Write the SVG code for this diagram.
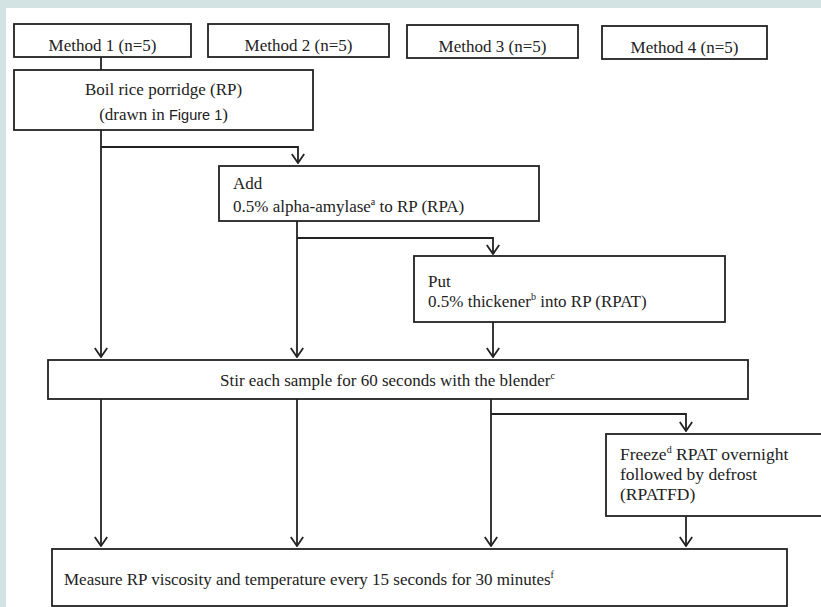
<svg xmlns="http://www.w3.org/2000/svg" width="821" height="607" viewBox="0 0 821 607">
<defs>
<style>
.bx{fill:#fff;stroke:#222;stroke-width:1.8}
.t{font-family:"Liberation Serif","Times New Roman",serif;font-size:17px;fill:#222}
.f{font-size:17.5px}
.s{font-family:"Liberation Serif","Times New Roman",serif;font-size:10px;fill:#222}
.c{fill:none;stroke:#222;stroke-width:1.8}
</style>
<marker id="ah" viewBox="0 0 12 14" refX="11" refY="7" markerWidth="12" markerHeight="14" markerUnits="userSpaceOnUse" orient="auto">
<path d="M2,0.8 L11,7 L2,13.2" fill="none" stroke="#222" stroke-width="1.8"/>
</marker>
</defs>
<rect x="0" y="0" width="821" height="607" fill="#d3e3e3"/>
<rect x="6" y="8" width="815" height="599" fill="#fff"/>

<g id="connectors">
<path class="c" d="M101,57 V70"/>
<path class="c" d="M101,130 V357" marker-end="url(#ah)"/>
<path class="c" d="M101,147 H298 V163" marker-end="url(#ah)"/>
<path class="c" d="M297,221 V357" marker-end="url(#ah)"/>
<path class="c" d="M297,238 H493 V254" marker-end="url(#ah)"/>
<path class="c" d="M493,322 V357" marker-end="url(#ah)"/>
<path class="c" d="M101,399 V546" marker-end="url(#ah)"/>
<path class="c" d="M297,399 V546" marker-end="url(#ah)"/>
<path class="c" d="M491,399 V546" marker-end="url(#ah)"/>
<path class="c" d="M491,414 H686 V431" marker-end="url(#ah)"/>
<path class="c" d="M686,516 V546" marker-end="url(#ah)"/>
</g>

<g id="method1"><rect class="bx" x="14" y="24" width="177" height="33"/><text class="t" x="102.5" y="50.5" text-anchor="middle">Method 1 (n=5)</text></g>
<g id="method2"><rect class="bx" x="208" y="24" width="181" height="33"/><text class="t" x="298.5" y="50.5" text-anchor="middle">Method 2 (n=5)</text></g>
<g id="method3"><rect class="bx" x="407" y="25" width="171" height="33"/><text class="t" x="492.5" y="51.5" text-anchor="middle">Method 3 (n=5)</text></g>
<g id="method4"><rect class="bx" x="602" y="26" width="165" height="33"/><text class="t" x="684.5" y="52.5" text-anchor="middle">Method 4 (n=5)</text></g>

<g id="boil"><rect class="bx" x="14" y="70" width="299" height="60"/>
<text class="t" x="163.5" y="95" text-anchor="middle">Boil rice porridge (RP)</text>
<text class="t" x="163.5" y="120" text-anchor="middle">(drawn in <tspan style="font-family:'Liberation Sans',Arial,sans-serif;font-size:14.5px">Figure 1</tspan>)</text></g>

<g id="add"><rect class="bx" x="219" y="166" width="320" height="55"/>
<text class="t" x="233" y="189">Add</text>
<text class="t" x="233" y="212">0.5% alpha-amylase<tspan class="s" dy="-7">a</tspan><tspan dy="7"> to RP (RPA)</tspan></text></g>

<g id="put"><rect class="bx" x="414" y="256" width="311" height="66"/>
<text class="t" x="428" y="287">Put</text>
<text class="t" x="428" y="307">0.5% thickener<tspan class="s" dy="-7">b</tspan><tspan dy="7"> into RP (RPAT)</tspan></text></g>

<g id="stir"><rect class="bx" x="48" y="360" width="700" height="39"/>
<text class="t" x="220" y="386">Stir each sample for 60 seconds with the blender<tspan class="s" dy="-7">c</tspan></text></g>

<g id="freeze"><rect class="bx" x="606" y="434" width="230" height="82"/>
<text class="t f" x="620" y="460">Freeze<tspan class="s" dy="-7">d</tspan><tspan dy="7"> RPAT overnight</tspan></text>
<text class="t f" x="620" y="480">followed by defrost</text>
<text class="t f" x="620" y="500">(RPATFD)</text></g>

<g id="measure"><rect class="bx" x="52" y="549" width="735" height="57"/>
<text class="t" x="64" y="585">Measure RP viscosity and temperature every 15 seconds for 30 minutes<tspan class="s" dy="-7">f</tspan></text></g>
</svg>
